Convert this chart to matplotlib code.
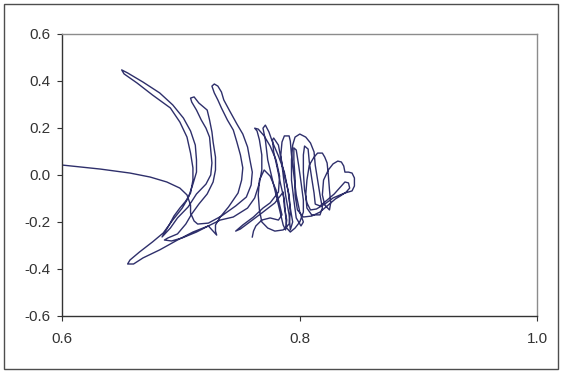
import numpy as np
import matplotlib
matplotlib.use("Agg")
import matplotlib.pyplot as plt
from matplotlib.patches import Rectangle
from matplotlib.ticker import FixedLocator, FuncFormatter

plt.rcParams['font.family'] = ['Liberation Sans', 'DejaVu Sans']
plt.rcParams['axes.unicode_minus'] = False

# Trajectory, traced piece by piece (x, y)
start_x = [0.600, 0.615, 0.632, 0.644, 0.657, 0.674, 0.688, 0.699, 0.705, 0.708,
           0.708, 0.711, 0.714, 0.723, 0.734, 0.746, 0.755, 0.759, 0.760]
start_y = [0.041, 0.033, 0.024, 0.016, 0.007, -0.010, -0.031, -0.057, -0.086, -0.129,
           -0.163, -0.197, -0.210, -0.206, -0.176, -0.133, -0.095, -0.044, 0.011]

arc3_up_x = [0.758, 0.756, 0.752, 0.747, 0.741, 0.736, 0.734, 0.731, 0.728, 0.726]
arc3_up_y = [0.063, 0.118, 0.173, 0.216, 0.271, 0.318, 0.352, 0.377, 0.386, 0.377]

arc3_down_x = [0.728, 0.731, 0.734, 0.739, 0.744, 0.747, 0.750, 0.752, 0.751, 0.748,
               0.740, 0.733, 0.729, 0.729, 0.730]
arc3_down_y = [0.348, 0.318, 0.284, 0.233, 0.190, 0.139, 0.084, 0.029, -0.023, -0.078,
               -0.137, -0.180, -0.214, -0.240, -0.257]

tail_x = [0.723, 0.710, 0.697, 0.682, 0.668, 0.660, 0.655]
tail_y = [-0.218, -0.244, -0.278, -0.320, -0.354, -0.380, -0.380]

rise_x = [0.657, 0.665, 0.676, 0.685, 0.693, 0.701, 0.706, 0.710, 0.713]
rise_y = [-0.363, -0.329, -0.286, -0.248, -0.193, -0.142, -0.099, -0.040, 0.011]

arc1_up_x = [0.713, 0.712, 0.708, 0.702, 0.693, 0.682, 0.668, 0.655, 0.650]
arc1_up_y = [0.063, 0.126, 0.186, 0.241, 0.297, 0.348, 0.394, 0.433, 0.446]

arc1_down_x = [0.652, 0.663, 0.676, 0.691, 0.699, 0.705, 0.708, 0.710, 0.710, 0.708,
               0.704, 0.699, 0.694, 0.690, 0.686, 0.684]
arc1_down_y = [0.429, 0.390, 0.339, 0.284, 0.224, 0.160, 0.092, 0.029, -0.023, -0.078,
               -0.112, -0.142, -0.176, -0.214, -0.248, -0.265]

arc2_up_x = [0.691, 0.697, 0.706, 0.713, 0.721, 0.725, 0.726, 0.725, 0.724, 0.721,
             0.717, 0.713, 0.709, 0.708]
arc2_up_y = [-0.227, -0.184, -0.137, -0.082, -0.040, -0.001, 0.050, 0.105, 0.160, 0.198,
             0.233, 0.275, 0.309, 0.326]

arc2_down_x = [0.711, 0.715, 0.722, 0.724, 0.726, 0.727, 0.729, 0.729, 0.727, 0.722,
               0.715, 0.709, 0.704, 0.697, 0.689, 0.686]
arc2_down_y = [0.331, 0.305, 0.275, 0.233, 0.182, 0.139, 0.075, 0.020, -0.031, -0.082,
               -0.125, -0.167, -0.210, -0.252, -0.269, -0.278]

band_x = [0.692, 0.701, 0.713, 0.723, 0.733, 0.744, 0.756, 0.762, 0.766, 0.768]
band_y = [-0.282, -0.269, -0.244, -0.218, -0.193, -0.180, -0.142, -0.099, -0.035, 0.020]

arc4_x = [0.768, 0.766, 0.764, 0.762, 0.765, 0.770, 0.775, 0.780, 0.783, 0.782,
          0.775, 0.769, 0.761, 0.752, 0.746, 0.750, 0.758, 0.768, 0.779, 0.786]
arc4_y = [0.084, 0.148, 0.186, 0.198, 0.194, 0.165, 0.122, 0.063, -0.006, -0.074,
          -0.120, -0.142, -0.180, -0.214, -0.240, -0.231, -0.201, -0.163, -0.120, -0.074]

core_a_x = [0.787, 0.789, 0.788, 0.786, 0.783, 0.780, 0.777, 0.773, 0.771, 0.769,
            0.771, 0.774, 0.777, 0.782, 0.787, 0.790, 0.792, 0.794, 0.792]
core_a_y = [-0.137, -0.193, -0.235, -0.214, -0.150, -0.086, -0.023, 0.063, 0.148, 0.198,
            0.211, 0.182, 0.139, 0.080, 0.011, -0.065, -0.142, -0.201, -0.235]

core_b_x = [0.791, 0.788, 0.786, 0.784, 0.785, 0.787, 0.791, 0.792, 0.793, 0.795,
            0.797, 0.800, 0.803, 0.801, 0.797, 0.795, 0.793, 0.793, 0.794, 0.796,
            0.800, 0.805, 0.809, 0.812, 0.813, 0.815, 0.817, 0.819, 0.817, 0.810,
            0.806, 0.805, 0.806, 0.808, 0.812, 0.815, 0.819, 0.821, 0.823, 0.824,
            0.825, 0.826, 0.825, 0.821, 0.819, 0.820, 0.824, 0.828, 0.832, 0.835,
            0.837, 0.838, 0.841, 0.844, 0.846, 0.846, 0.844, 0.838, 0.834, 0.828]
core_b_y = [-0.171, -0.086, -0.001, 0.084, 0.139, 0.165, 0.165, 0.143, 0.084, -0.001,
            -0.086, -0.159, -0.201, -0.218, -0.184, -0.108, -0.023, 0.063, 0.126, 0.160,
            0.173, 0.160, 0.135, 0.097, 0.041, -0.023, -0.086, -0.142, -0.171, -0.171,
            -0.142, -0.086, -0.023, 0.041, 0.075, 0.092, 0.092, 0.075, 0.050, -0.001,
            -0.065, -0.120, -0.150, -0.129, -0.086, -0.023, 0.020, 0.046, 0.058, 0.054,
            0.037, 0.011, 0.011, 0.007, -0.014, -0.048, -0.069, -0.078, -0.086, -0.099]

core_c_x = [0.821, 0.814, 0.809, 0.806, 0.804, 0.803, 0.803, 0.804, 0.807, 0.808,
            0.810, 0.812, 0.813, 0.817, 0.823, 0.829, 0.835, 0.838, 0.841, 0.842,
            0.839, 0.834, 0.830, 0.824, 0.817, 0.810, 0.803, 0.798, 0.796, 0.796,
            0.795, 0.795, 0.797, 0.799, 0.801, 0.803, 0.803, 0.800, 0.796, 0.792,
            0.789, 0.788, 0.787, 0.784, 0.781, 0.778, 0.777, 0.778, 0.782, 0.784,
            0.787, 0.791, 0.792, 0.791, 0.786, 0.779, 0.773, 0.768, 0.766, 0.765,
            0.766, 0.770, 0.775, 0.780, 0.783, 0.785, 0.782, 0.775, 0.768, 0.763,
            0.761, 0.760]
core_c_y = [-0.125, -0.146, -0.150, -0.120, -0.065, 0.011, 0.084, 0.122, 0.109, 0.054,
            -0.014, -0.078, -0.125, -0.133, -0.108, -0.082, -0.048, -0.031, -0.035, -0.057,
            -0.074, -0.091, -0.103, -0.129, -0.159, -0.176, -0.180, -0.150, -0.086, -0.014,
            0.063, 0.114, 0.105, 0.041, -0.031, -0.108, -0.159, -0.201, -0.227, -0.244,
            -0.227, -0.171, -0.108, -0.044, 0.029, 0.097, 0.148, 0.156, 0.126, 0.071,
            -0.001, -0.086, -0.159, -0.210, -0.235, -0.240, -0.227, -0.201, -0.150, -0.086,
            -0.023, 0.020, -0.006, -0.065, -0.129, -0.171, -0.193, -0.184, -0.193, -0.218,
            -0.240, -0.265]

x_ticks = [0.6, 0.8, 1.0]
y_ticks = [-0.6, -0.4, -0.2, 0.0, 0.2, 0.4, 0.6]

pieces_x = [start_x, arc3_up_x, arc3_down_x, tail_x, rise_x, arc1_up_x, arc1_down_x,
            arc2_up_x, arc2_down_x, band_x, arc4_x, core_a_x, core_b_x, core_c_x]
pieces_y = [start_y, arc3_up_y, arc3_down_y, tail_y, rise_y, arc1_up_y, arc1_down_y,
            arc2_up_y, arc2_down_y, band_y, arc4_y, core_a_y, core_b_y, core_c_y]
xs = np.concatenate(pieces_x)
ys = np.concatenate(pieces_y)

fig = plt.figure(figsize=(5.62, 3.72), dpi=100)
fig.patches.append(Rectangle((3.5 / 562, 3.5 / 372), 554.5 / 562, 365 / 372,
                             transform=fig.transFigure, fill=False,
                             edgecolor='#4d4d4d', linewidth=1.0))

ax = fig.add_axes([62.3 / 562, 56.3 / 372, 475 / 562, 282 / 372])
ax.plot(xs, ys, color='#2e2f6b', linewidth=1.0, solid_joinstyle='round')

ax.set_xlim(0.6, 1.0)
ax.set_ylim(-0.6, 0.6)
ax.xaxis.set_major_locator(FixedLocator(x_ticks))
ax.yaxis.set_major_locator(FixedLocator(y_ticks))
ax.xaxis.set_major_formatter(FuncFormatter(lambda v, p: f"{v:.1f}"))
ax.yaxis.set_major_formatter(FuncFormatter(lambda v, p: f"{v:.1f}"))

for side in ('left', 'bottom'):
    ax.spines[side].set_color('#333333')
    ax.spines[side].set_linewidth(1.0)
for side in ('top', 'right'):
    ax.spines[side].set_color('#8c8c8c')
    ax.spines[side].set_linewidth(1.0)

ax.tick_params(axis='both', direction='out', length=3.5, width=0.8, color='#333333',
               labelsize=11, labelcolor='#333333')
ax.tick_params(axis='y', pad=5)
ax.tick_params(axis='x', pad=8)

fig.savefig('out.png', dpi=100)
